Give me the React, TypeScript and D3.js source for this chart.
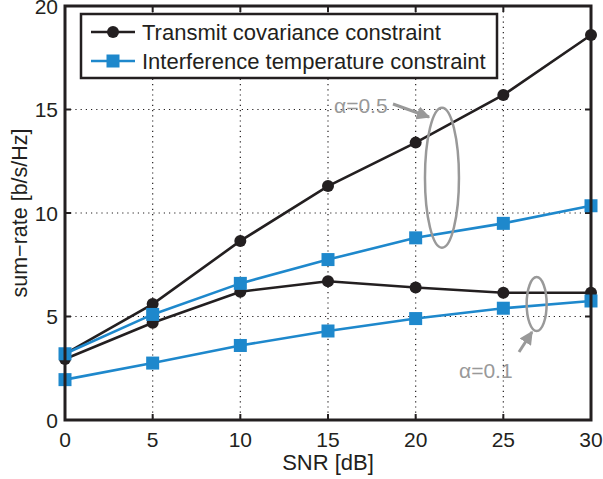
import React from "react";
import * as d3 from "d3";

const snr = [0, 5, 10, 15, 20, 25, 30];
const tcA05 = [3.2, 5.6, 8.65, 11.3, 13.4, 15.7, 18.6];
const tcA01 = [2.95, 4.7, 6.2, 6.7, 6.4, 6.15, 6.15];
const itA05 = [3.2, 5.1, 6.6, 7.75, 8.8, 9.5, 10.35];
const itA01 = [1.95, 2.75, 3.6, 4.3, 4.9, 5.4, 5.75];
const xTicks = [0, 5, 10, 15, 20, 25, 30];
const yTicks = [0, 5, 10, 15, 20];
const legendLabels = ["Transmit covariance constraint", "Interference temperature constraint"];

const W = 603, H = 479;
const L = 65, R = 591, T = 6, B = 420;
const BLACK = "#231f20";
const BLUE = "#1e88cc";
const GRAY = "#999999";
const FONT = "'Liberation Sans', Arial, sans-serif";

export default function App() {
  const x = d3.scaleLinear().domain([0, 30]).range([L, R]);
  const y = d3.scaleLinear().domain([0, 20]).range([B, T]);
  const line = d3.line<number>().x((_, i) => x(snr[i])).y((d) => y(d));

  const series = [
    { data: tcA05, color: BLACK, marker: "circle" },
    { data: tcA01, color: BLACK, marker: "circle" },
    { data: itA05, color: BLUE, marker: "square" },
    { data: itA01, color: BLUE, marker: "square" },
  ];

  const marker = (kind: string, cx: number, cy: number, color: string, key: any) =>
    kind === "circle" ? (
      <circle key={key} cx={cx} cy={cy} r={6} fill={color} />
    ) : (
      <rect key={key} x={cx - 6.5} y={cy - 6.5} width={13} height={13} fill={color} />
    );

  return (
    <svg width={W} height={H} style={{ position: "absolute", left: 0, top: 0, background: "#fff" }}>
      <rect x={0} y={0} width={W} height={H} fill="#fff" />
      <defs>
        <marker id="arr" viewBox="0 0 10 10" refX="9" refY="5" markerWidth="4.5" markerHeight="4.5" orient="auto">
          <path d="M0,0 L10,5 L0,10 z" fill={GRAY} />
        </marker>
      </defs>
      {/* grid */}
      {xTicks.slice(1, -1).map((t) => (
        <line key={"gx" + t} x1={x(t)} x2={x(t)} y1={T} y2={B} stroke={BLACK} strokeWidth={1.2} strokeDasharray="1.2,4" />
      ))}
      {yTicks.slice(1, -1).map((t) => (
        <line key={"gy" + t} x1={L} x2={R} y1={y(t)} y2={y(t)} stroke={BLACK} strokeWidth={1.2} strokeDasharray="1.2,4" />
      ))}
      {/* ticks */}
      {xTicks.map((t) => (
        <g key={"tx" + t}>
          <line x1={x(t)} x2={x(t)} y1={B} y2={B - 6} stroke={BLACK} strokeWidth={2} />
          <line x1={x(t)} x2={x(t)} y1={T} y2={T + 6} stroke={BLACK} strokeWidth={2} />
          <text x={x(t)} y={B + 27} textAnchor="middle" fontSize={21} fontFamily={FONT} fill={BLACK}>{t}</text>
        </g>
      ))}
      {yTicks.map((t) => (
        <g key={"ty" + t}>
          <line x1={L} x2={L + 6} y1={y(t)} y2={y(t)} stroke={BLACK} strokeWidth={2} />
          <line x1={R} x2={R - 6} y1={y(t)} y2={y(t)} stroke={BLACK} strokeWidth={2} />
          <text x={L - 7} y={y(t) + 7.5} textAnchor="end" fontSize={21} fontFamily={FONT} fill={BLACK}>{t}</text>
        </g>
      ))}
      {/* series */}
      {series.map((s, si) => (
        <g key={"s" + si}>
          <path d={line(s.data) || ""} fill="none" stroke={s.color} strokeWidth={2.6} />
          {s.data.map((v, i) => marker(s.marker, x(snr[i]), y(v), s.color, i))}
        </g>
      ))}
      {/* frame */}
      <rect x={L} y={T} width={R - L} height={B - T} fill="none" stroke={BLACK} strokeWidth={3} />
      {/* annotations */}
      <ellipse cx={x(21.5)} cy={y(11.7)} rx={17} ry={70} fill="none" stroke={GRAY} strokeWidth={2.5} />
      <text x={334} y={113} fontSize={21} fontFamily={FONT} fill={GRAY}>α=0.5</text>
      <line x1={393} x2={429} y1={104} y2={117} stroke={GRAY} strokeWidth={3} markerEnd="url(#arr)" />
      <ellipse cx={x(26.9)} cy={y(5.6)} rx={10} ry={27} fill="none" stroke={GRAY} strokeWidth={2.5} />
      <text x={459} y={378} fontSize={21} fontFamily={FONT} fill={GRAY}>α=0.1</text>
      <line x1={519} x2={532} y1={352} y2={332} stroke={GRAY} strokeWidth={3} markerEnd="url(#arr)" />
      {/* legend */}
      <rect x={81} y={14} width={416} height={64} fill="#fff" stroke={BLACK} strokeWidth={2.5} />
      {legendLabels.map((lab, i) => {
        const cy = 32 + i * 29;
        const c = i === 0 ? BLACK : BLUE;
        return (
          <g key={"lg" + i}>
            <line x1={91} x2={135} y1={cy} y2={cy} stroke={c} strokeWidth={2.6} />
            {marker(i === 0 ? "circle" : "square", 113, cy, c, "m")}
            <text x={142} y={cy + 7.5} fontSize={22} fontFamily={FONT} fill={BLACK}>{lab}</text>
          </g>
        );
      })}
      {/* axis labels */}
      <text x={(L + R) / 2} y={470} textAnchor="middle" fontSize={22} fontFamily={FONT} fill={BLACK}>SNR [dB]</text>
      <text transform={`translate(27,${(T + B) / 2}) rotate(-90)`} textAnchor="middle" fontSize={21.5} fontFamily={FONT} fill={BLACK}>sum−rate [b/s/Hz]</text>
    </svg>
  );
}
